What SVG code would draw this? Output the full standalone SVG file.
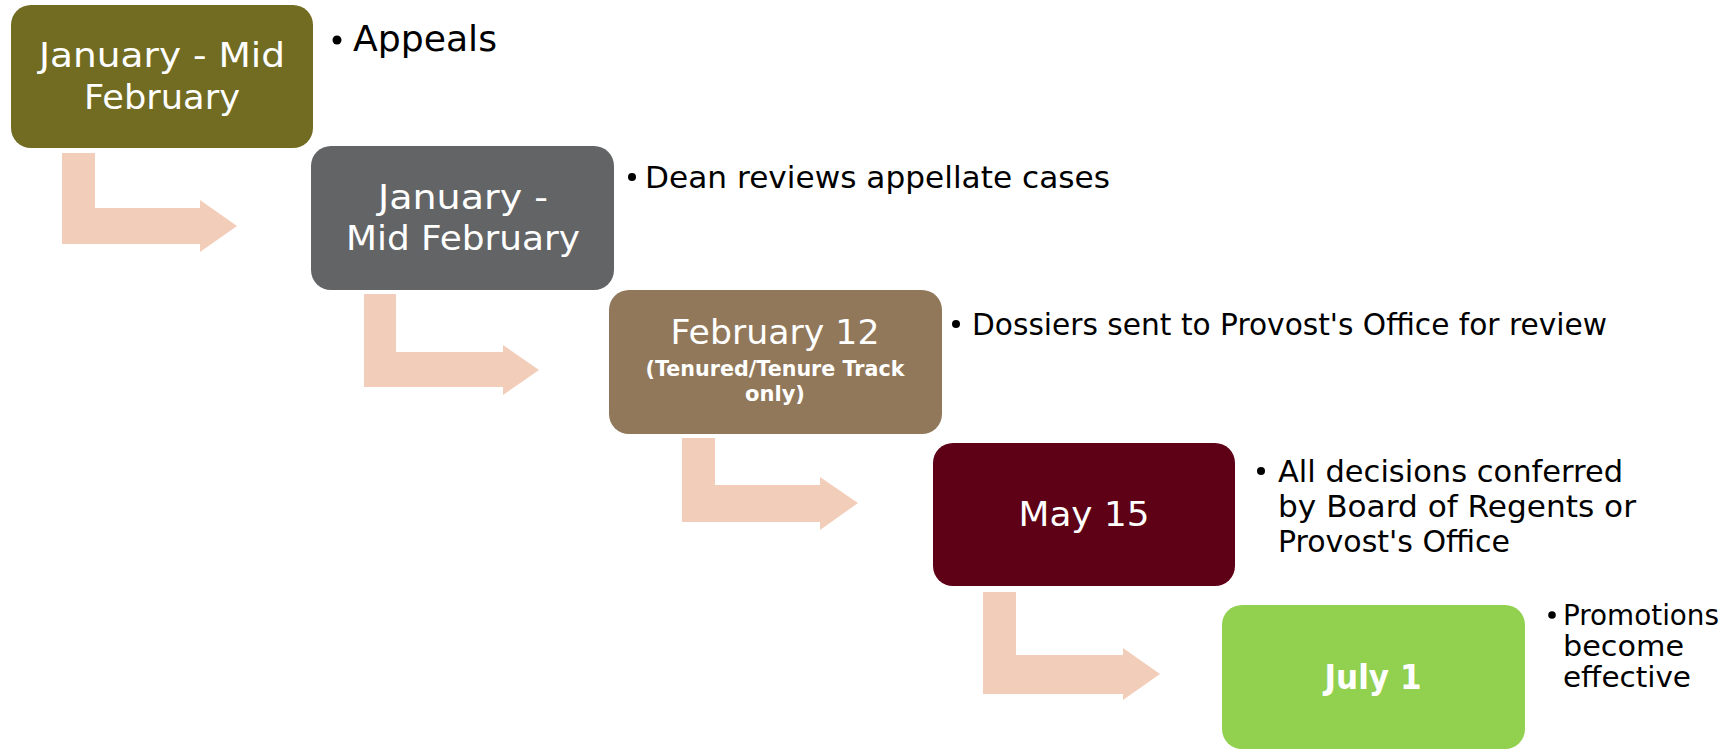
<svg xmlns="http://www.w3.org/2000/svg" width="1735" height="749" viewBox="0 0 1735 749">
  <style>
    .box { stroke: none; }
    .lbl { font-family: "DejaVu Sans", "Liberation Sans", sans-serif; fill: #ffffff; text-anchor: middle; }
    .lbl-b { font-family: "DejaVu Sans", "Liberation Sans", sans-serif; fill: #ffffff; text-anchor: middle; font-weight: bold; }
    .note { font-family: "DejaVu Sans", "Liberation Sans", sans-serif; fill: #000000; }
    .arrow { fill: #F2CEBA; stroke: none; }
  </style>
  <rect width="1735" height="749" fill="#ffffff"/>

  <!-- bent arrows between steps -->
  <g id="connectors">
    <path class="arrow" d="M62,153 H95 V208 H200 V200 L237,226 L200,252 V244 H62 Z"/>
    <path class="arrow" d="M364,294 H396 V352 H503 V345 L539,370 L503,395 V387 H364 Z"/>
    <path class="arrow" d="M682,438 H715 V485 H820 V477 L858,503 L820,530 V522 H682 Z"/>
    <path class="arrow" d="M983,592 H1016 V655 H1123 V648 L1160,674 L1123,700 V694 H983 Z"/>
  </g>

  <g id="step1">
    <rect class="box" x="11" y="5" width="302" height="143" rx="20" fill="#716C22"/>
    <text class="lbl" x="162" y="67" font-size="33" textLength="246" lengthAdjust="spacingAndGlyphs">January - Mid</text>
    <text class="lbl" x="162" y="109" font-size="33" textLength="156" lengthAdjust="spacingAndGlyphs">February</text>
    <circle cx="337" cy="40" r="4.5" fill="#000"/>
    <text class="note" x="353" y="51" font-size="36" textLength="144" lengthAdjust="spacingAndGlyphs">Appeals</text>
  </g>

  <g id="step2">
    <rect class="box" x="311" y="146" width="303" height="144" rx="20" fill="#636466"/>
    <text class="lbl" x="463" y="209" font-size="33" textLength="170" lengthAdjust="spacingAndGlyphs">January -</text>
    <text class="lbl" x="463" y="250" font-size="33" textLength="234" lengthAdjust="spacingAndGlyphs">Mid February</text>
    <circle cx="632" cy="177" r="4" fill="#000"/>
    <text class="note" x="645" y="188" font-size="31" textLength="465" lengthAdjust="spacingAndGlyphs">Dean reviews appellate cases</text>
  </g>

  <g id="step3">
    <rect class="box" x="609" y="290" width="333" height="144" rx="20" fill="#92785A"/>
    <text class="lbl" x="775" y="344" font-size="33" textLength="209" lengthAdjust="spacingAndGlyphs">February 12</text>
    <text class="lbl-b" x="775" y="376" font-size="21" textLength="259" lengthAdjust="spacingAndGlyphs">(Tenured/Tenure Track</text>
    <text class="lbl-b" x="775" y="401" font-size="21" textLength="60" lengthAdjust="spacingAndGlyphs">only)</text>
    <circle cx="956" cy="324" r="4" fill="#000"/>
    <text class="note" x="972" y="335" font-size="31" textLength="635" lengthAdjust="spacingAndGlyphs">Dossiers sent to Provost's Office for review</text>
  </g>

  <g id="step4">
    <rect class="box" x="933" y="443" width="302" height="143" rx="20" fill="#5E0016"/>
    <text class="lbl" x="1084" y="526" font-size="33" textLength="131" lengthAdjust="spacingAndGlyphs">May 15</text>
    <circle cx="1261" cy="471" r="4" fill="#000"/>
    <text class="note" x="1278" y="482" font-size="31" textLength="345" lengthAdjust="spacingAndGlyphs">All decisions conferred</text>
    <text class="note" x="1278" y="517" font-size="31" textLength="358" lengthAdjust="spacingAndGlyphs">by Board of Regents or</text>
    <text class="note" x="1278" y="552" font-size="31" textLength="232" lengthAdjust="spacingAndGlyphs">Provost's Office</text>
  </g>

  <g id="step5">
    <rect class="box" x="1222" y="605" width="303" height="144" rx="20" fill="#92D050"/>
    <text class="lbl-b" x="1373" y="689" font-size="33" textLength="97" lengthAdjust="spacingAndGlyphs">July 1</text>
    <circle cx="1552" cy="615" r="3.8" fill="#000"/>
    <text class="note" x="1563" y="625" font-size="29" textLength="156" lengthAdjust="spacingAndGlyphs">Promotions</text>
    <text class="note" x="1563" y="656" font-size="29" textLength="121" lengthAdjust="spacingAndGlyphs">become</text>
    <text class="note" x="1563" y="687" font-size="29" textLength="128" lengthAdjust="spacingAndGlyphs">effective</text>
  </g>
</svg>
